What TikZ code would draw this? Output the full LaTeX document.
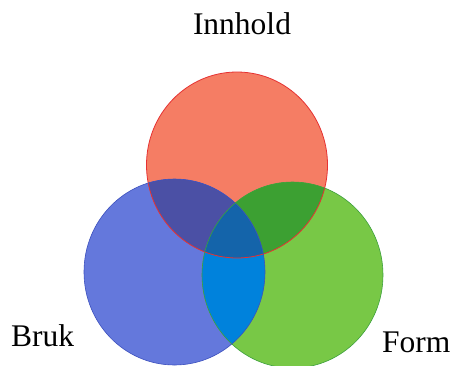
\documentclass[tikz,border=0pt]{standalone}
\usepackage{fontspec}
\setmainfont{Liberation Serif}
\definecolor{cred}{RGB}{245,125,100}
\definecolor{cblue}{RGB}{100,120,220}
\definecolor{cgreen}{RGB}{120,200,70}
\definecolor{crb}{RGB}{75,80,165}
\definecolor{crg}{RGB}{60,160,50}
\definecolor{cbg}{RGB}{0,130,220}
\definecolor{crbg}{RGB}{20,100,170}
\definecolor{ered}{RGB}{230,50,50}
\definecolor{eblue}{RGB}{60,80,190}
\definecolor{egreen}{RGB}{60,160,60}
\tikzset{lbl/.style={font=\fontsize{31.5}{36}\selectfont, inner sep=0pt}}
\begin{document}
\begin{tikzpicture}[x=1pt,y=-1pt]
\useasboundingbox (0,0) rectangle (453,365);
\fill[white] (0,0) rectangle (453,365);
\coordinate (R) at (237,165);
\coordinate (B) at (174.5,272);
\coordinate (G) at (292.5,275);
\def\rx{90.5}
\def\ry{93}
\def\circR{(R) ellipse [x radius=\rx, y radius=\ry]}
\def\circB{(B) ellipse [x radius=\rx, y radius=\ry]}
\def\circG{(G) ellipse [x radius=\rx, y radius=\ry]}
% base circles
\fill[cred] \circR;
\fill[cblue] \circB;
\fill[cgreen] \circG;
% pairwise overlaps
\begin{scope}
\clip \circR;
\fill[crb] \circB;
\fill[crg] \circG;
\end{scope}
\begin{scope}
\clip \circB;
\fill[cbg] \circG;
\end{scope}
\begin{scope}
\clip \circR;
\clip \circB;
\fill[crbg] \circG;
\end{scope}
% outlines
\draw[ered, line width=0.8pt] \circR;
\draw[eblue, line width=0.6pt] \circB;
\draw[egreen, line width=0.6pt] \circG;
% labels
\node[lbl, anchor=base] (inn) at (242,34) {Innhold};
\node[lbl, anchor=base west] (bruk) at (11,346) {Bruk};
\node[lbl, anchor=base west] (form) at (382,352) {Form};
\end{tikzpicture}
\end{document}
